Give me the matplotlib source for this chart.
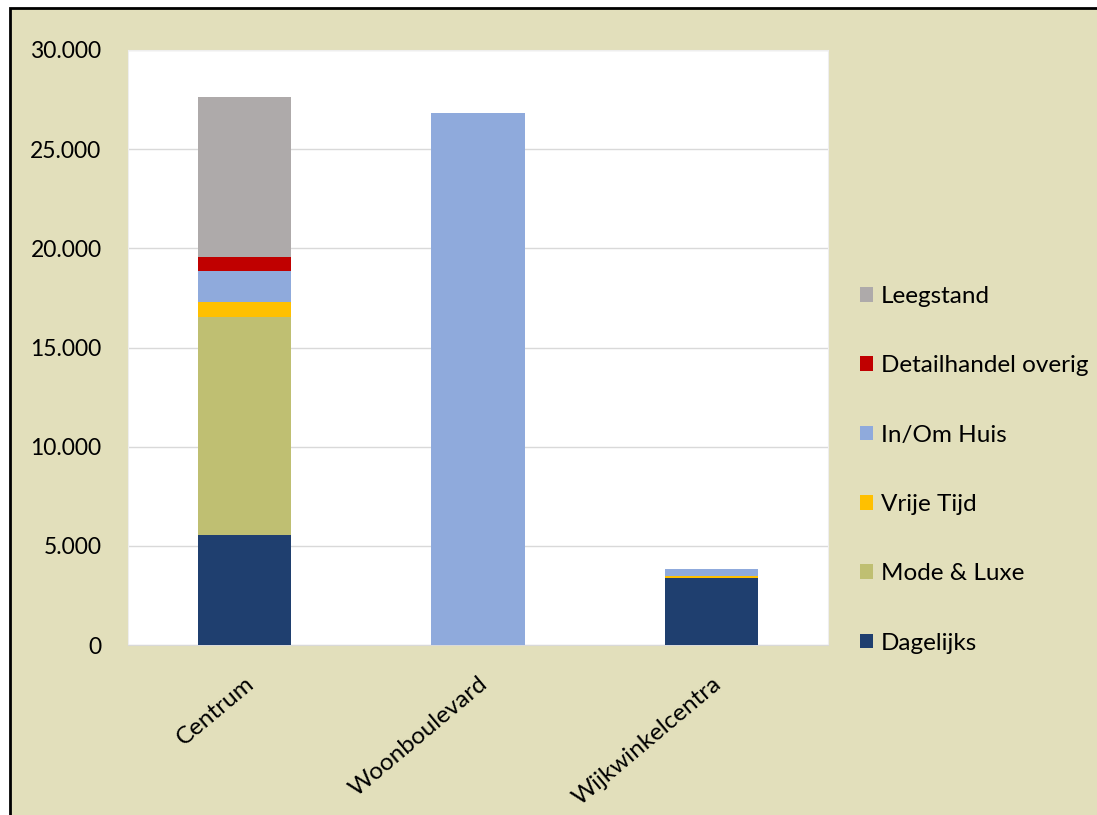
import numpy as np
import matplotlib.pyplot as plt
from matplotlib.patches import Rectangle
from matplotlib.ticker import FuncFormatter

plt.rcParams['font.family'] = ['Lato', 'DejaVu Sans']

locations = ["Centrum", "Woonboulevard", "Wijkwinkelcentra"]
categories = ["Dagelijks", "Mode & Luxe", "Vrije Tijd", "In/Om Huis",
              "Detailhandel overig", "Leegstand"]
colors = ["#1F3F6F", "#BFBF72", "#FFC000", "#8FAADC", "#C00000", "#AEAAAA"]

# floor area (m2) per category, one value per location
dagelijks = [5550, 0, 3400]
mode_luxe = [11000, 0, 0]
vrije_tijd = [750, 0, 100]
in_om_huis = [1560, 26830, 320]
detail_overig = [690, 0, 0]
leegstand = [8100, 0, 0]
series = [dagelijks, mode_luxe, vrije_tijd, in_om_huis, detail_overig, leegstand]

fig = plt.figure(figsize=(10.97, 8.15), dpi=100, facecolor='white')
fig.patches.append(Rectangle((10 / 1097, -0.02), 1.0, 1 - 8 / 815 + 0.02,
                             transform=fig.transFigure, facecolor='#E2DFBB',
                             edgecolor='black', linewidth=2, zorder=-10))

ax = fig.add_axes([128 / 1097, 1 - 645 / 815, 700 / 1097, 595 / 815])
ax.set_zorder(1)
ax.set_facecolor('white')

x = np.arange(len(locations))
bottom = np.zeros(len(locations))
handles = []
for name, vals, col in zip(categories, series, colors):
    b = ax.bar(x, vals, width=0.4, bottom=bottom, color=col, label=name, zorder=3)
    handles.append(b)
    bottom += np.array(vals)

ax.set_xlim(-0.5, 2.5)
ax.set_ylim(0, 30000)
ax.set_yticks(np.arange(0, 30001, 5000))
ax.yaxis.set_major_formatter(FuncFormatter(lambda v, p: f"{int(v):,}".replace(",", ".")))
ax.grid(axis='y', color='#D9D9D9', linewidth=1, zorder=0)
ax.tick_params(axis='y', length=0, labelsize=16.5, pad=19)
ax.tick_params(axis='x', length=0, labelsize=17.5, pad=20)
ax.set_xticks(x)
ax.set_xticklabels(locations, rotation=40, ha='right', rotation_mode='anchor')
for side in ['top', 'right', 'left']:
    ax.spines[side].set_color('#EEEEEE')
ax.spines['bottom'].set_color('#D9D9D9')

leg = fig.legend(handles[::-1], categories[::-1], loc='upper left',
                 bbox_to_anchor=(838 / 1097, 1 - 264 / 815), frameon=False,
                 fontsize=17.5, handlelength=0.55, handleheight=0.55,
                 handletextpad=0.3, labelspacing=1.99)
leg.set_zorder(2)

fig.savefig("out.png", dpi=100, facecolor=fig.get_facecolor())
